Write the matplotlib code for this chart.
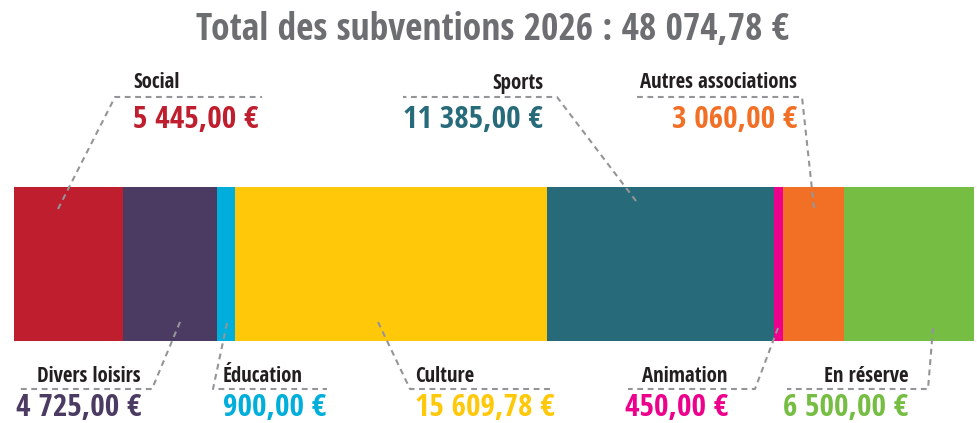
import numpy as np
import matplotlib
matplotlib.use("Agg")
import matplotlib.pyplot as plt

# data
categories = ["Social", "Divers loisirs", "Éducation", "Culture",
              "Sports", "Animation", "Autres associations", "En réserve"]
amounts = [5445.00, 4725.00, 900.00, 15609.78, 11385.00, 450.00, 3060.00, 6500.00]
amount_labels = ["5 445,00 €", "4 725,00 €", "900,00 €", "15 609,78 €",
                 "11 385,00 €", "450,00 €", "3 060,00 €", "6 500,00 €"]
title = "Total des subventions 2026 : 48 074,78 €"

colors = ["#BE1E2D", "#4B3B63", "#00AEDB", "#FFC808",
          "#276A7A", "#EC008C", "#F26F26", "#76BD43"]

FONT = ["Open Sans Condensed", "PT Sans Narrow", "DejaVu Sans"]
DARK = "#231F20"
GRAY = "#939598"

# leader layout in figure pixels: anchor in bar, elbow, end of underline,
# text x, alignment, label y, value y
layout = {
    "Social":              ((58, 209), (115, 97), (262, 97), 133, "left", 83, 120),
    "Divers loisirs":      ((180, 322), (152, 389), (18, 389), 141, "right", 377, 408),
    "Éducation":           ((227, 323), (213, 389), (327, 389), 223, "left", 377, 408),
    "Culture":             ((378, 322), (410, 389), (553, 389), 415, "left", 377, 408),
    "Sports":              ((636, 201), (557, 97), (403, 97), 543, "right", 83, 120),
    "Animation":           ((778, 328), (755, 389), (628, 389), 728, "right", 377, 408),
    "Autres associations": ((814, 208), (802, 97), (637, 97), 797, "right", 83, 120),
    "En réserve":          ((933, 328), (928, 389), (787, 389), 908, "right", 377, 408),
}

W, H = 978, 423
fig = plt.figure(figsize=(W / 100, H / 100), dpi=100)

# stacked bar
bar_ax = fig.add_axes([14 / W, (H - 341) / H, 960 / W, 154 / H])
total = sum(amounts)
lefts = np.concatenate([[0], np.cumsum(amounts)[:-1]])
bar_ax.barh(0, amounts, left=lefts, height=1, color=colors, linewidth=0)
bar_ax.set_xlim(0, total)
bar_ax.set_ylim(-0.5, 0.5)
bar_ax.axis("off")

# overlay for labels and leader lines (pixel coordinates)
ax = fig.add_axes([0, 0, 1, 1], zorder=3)
ax.set_xlim(0, W)
ax.set_ylim(H, 0)
ax.axis("off")
ax.patch.set_alpha(0)

ax.text(492, 30, title, ha="center", va="center", fontsize=27,
        fontweight="bold", color="#6D6E71", family=FONT)

for cat, amt_lbl, col in zip(categories, amount_labels, colors):
    a, b, c, tx, ha, ly, vy = layout[cat]
    ax.plot([a[0], b[0], c[0]], [a[1], b[1], c[1]], color=GRAY, lw=1.5,
            linestyle=(0, (2.8, 2.2)), solid_joinstyle="miter")
    ax.text(tx, ly, cat, ha=ha, va="center", fontsize=15, fontweight="bold",
            color=DARK, family=FONT)
    ax.text(tx, vy, amt_lbl, ha=ha, va="center", fontsize=22.5, fontweight="bold",
            color=col, family=FONT)

fig.savefig("out.png", dpi=100)
